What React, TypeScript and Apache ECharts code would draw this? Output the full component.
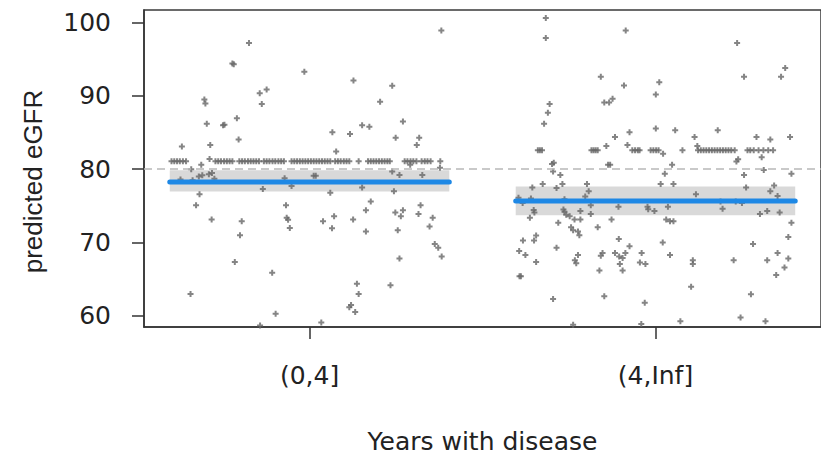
import React, { useEffect, useRef } from "react";
import * as echarts from "echarts";

const categories = ["(0,4]", "(4,Inf]"];
const yTickValues = [60, 70, 80, 90, 100];
const fitValues = [78.26, 75.68];
const ciLower = [76.96, 73.74];
const ciUpper = [79.85, 77.64];
const referenceValue = 80;

// residual-type points: [jitter offset from category, predicted eGFR]
const g1TiedValue = 81.1;
const g1TiedOffsets = [
  -0.399, -0.391, -0.383, -0.375, -0.366, -0.357,
  -0.272, -0.264, -0.256, -0.247, -0.239, -0.231, -0.223,
  -0.203, -0.195, -0.187, -0.178, -0.17, -0.162, -0.154, -0.146,
  -0.132, -0.124, -0.116, -0.107, -0.099, -0.09, -0.082, -0.074,
  -0.052, -0.044, -0.036, -0.028, -0.02, -0.012, -0.004, 0.004, 0.012, 0.02, 0.028,
  0.036, 0.044, 0.052, 0.06,
  0.074, 0.082, 0.09, 0.099, 0.107, 0.115,
  0.142,
  0.169, 0.177, 0.185, 0.193, 0.201, 0.209, 0.217, 0.225, 0.232,
  0.275, 0.283, 0.292, 0.3, 0.309,
  0.324, 0.333, 0.341, 0.35,
  0.378,
];
const g2TiedValue = 82.6;
const g2TiedOffsets = [
  -0.34, -0.334, -0.328,
  -0.185, -0.179, -0.173, -0.167,
  -0.067, -0.059, -0.051, -0.046,
  -0.014, -0.006, 0.002, 0.009,
  0.078,
  0.123, 0.131, 0.139, 0.147, 0.155, 0.163, 0.171, 0.179, 0.187, 0.195, 0.203, 0.211,
  0.219, 0.229,
  0.266, 0.274, 0.284, 0.298, 0.312, 0.326, 0.34,
];

const g1Points: [number, number][] = [
  [-0.369, 83.1], [-0.304, 89.5], [-0.301, 88.95], [-0.297, 86.2], [-0.287, 83.3],
  [-0.223, 94.4], [-0.219, 94.3], [-0.175, 97.2], [-0.25, 86.0], [-0.246, 86.05],
  [-0.21, 86.96], [-0.205, 84.06], [-0.144, 90.35], [-0.124, 90.86], [-0.138, 88.9],
  [-0.015, 93.3], [0.066, 85.05], [0.077, 82.4], [0.117, 84.8], [0.127, 92.1],
  [0.152, 86.0], [0.173, 85.8], [0.204, 89.2], [0.239, 91.36], [0.249, 84.3],
  [0.27, 86.5], [0.31, 83.3], [0.317, 84.3], [0.381, 98.9], [-0.289, 81.4],
  [-0.313, 80.6], [0.291, 80.6], [0.377, 80.2], [-0.342, 80.0], [-0.32, 79.0],
  [-0.31, 79.17], [-0.291, 79.3], [-0.282, 79.5], [-0.275, 78.7], [-0.338, 78.5],
  [-0.373, 78.6], [-0.318, 76.6], [-0.328, 75.1], [-0.283, 73.15], [-0.344, 63.0],
  [-0.216, 67.35], [-0.196, 72.9], [-0.201, 71.0], [-0.135, 77.3], [-0.108, 65.9],
  [-0.098, 60.3], [-0.072, 78.76], [-0.068, 75.1], [-0.066, 73.4], [-0.062, 73.1],
  [-0.057, 72.0], [-0.052, 77.7], [0.012, 79.1], [0.018, 79.1], [0.034, 59.1],
  [0.039, 72.9], [0.06, 76.8], [0.071, 73.6], [0.065, 71.97], [0.126, 73.15],
  [0.137, 64.4], [0.142, 63.0], [0.12, 61.5], [0.115, 61.2], [0.132, 60.56],
  [0.152, 77.5], [0.163, 74.4], [0.177, 75.6], [0.163, 71.5], [0.234, 64.2],
  [0.244, 77.0], [0.239, 79.7], [0.26, 79.2], [0.248, 74.1], [0.264, 73.6],
  [0.27, 74.4], [0.255, 71.7], [0.26, 67.85], [0.315, 73.9], [0.321, 75.1],
  [0.326, 79.2], [0.347, 72.2], [0.356, 73.4], [0.362, 69.8], [0.372, 69.3],
  [0.382, 68.1], [-0.143, 58.7],
];

const g2Points: [number, number][] = [
  [-0.317, 100.6], [-0.317, 97.9], [-0.306, 88.9], [-0.311, 87.7], [-0.322, 86.2],
  [-0.294, 80.9], [-0.299, 80.7], [-0.158, 92.6], [-0.148, 89.1], [-0.134, 89.1],
  [-0.124, 89.6], [-0.142, 83.15], [-0.117, 84.4], [-0.086, 98.9], [-0.091, 91.4],
  [-0.075, 85.05], [-0.081, 83.3], [-0.137, 80.6], [-0.131, 80.6], [0.001, 90.2],
  [0.011, 91.85], [0.001, 85.56], [0.022, 82.1], [0.048, 80.6], [0.057, 85.3],
  [0.113, 84.4], [0.121, 83.15], [0.18, 85.3], [0.236, 97.2], [0.256, 92.6],
  [0.239, 81.35], [0.234, 81.05], [0.292, 84.4], [0.307, 81.65], [0.332, 84.06],
  [0.363, 92.6], [0.375, 93.8], [0.389, 84.4], [-0.296, 79.7], [-0.275, 79.2],
  [0.027, 79.4], [0.015, 78.0], [0.052, 78.0], [0.256, 79.2], [0.262, 77.5],
  [0.313, 79.9], [0.393, 79.4], [-0.396, 76.1], [-0.36, 76.0], [-0.356, 77.5],
  [-0.326, 78.0], [-0.286, 77.45], [-0.269, 78.0], [-0.198, 78.0], [-0.193, 77.0],
  [-0.203, 76.3], [-0.352, 74.45], [-0.35, 74.1], [-0.363, 73.4], [-0.266, 74.5],
  [-0.263, 74.2], [-0.258, 73.8], [-0.281, 72.7], [-0.248, 73.6], [-0.234, 73.15],
  [-0.217, 74.3], [-0.217, 73.15], [-0.187, 75.1], [-0.187, 73.9], [-0.244, 72.1],
  [-0.238, 71.7], [-0.224, 71.5], [-0.22, 71.0], [-0.167, 72.1], [-0.127, 73.15],
  [-0.107, 74.9], [-0.023, 74.9], [-0.021, 74.55], [-0.003, 74.3], [0.036, 74.9],
  [0.031, 73.15], [0.042, 72.9], [0.052, 72.9], [0.117, 76.6], [0.194, 74.6],
  [0.302, 73.9], [0.323, 74.3], [0.332, 77.0], [0.343, 77.8], [0.353, 76.35],
  [0.359, 74.1], [0.393, 72.7], [0.384, 70.75], [0.384, 67.85], [0.373, 66.6],
  [0.349, 65.6], [0.353, 68.6], [0.323, 67.6], [0.282, 69.8], [0.226, 67.6],
  [0.276, 62.96], [0.246, 59.8], [0.318, 59.3], [-0.383, 70.3], [-0.394, 68.85],
  [-0.376, 68.3], [-0.393, 65.4], [-0.389, 65.4], [-0.345, 67.35], [-0.351, 70.3],
  [-0.345, 70.98], [-0.286, 69.3], [-0.296, 62.3], [-0.233, 67.6], [-0.229, 67.2],
  [-0.224, 68.3], [-0.162, 66.2], [-0.158, 68.2], [-0.153, 68.6], [-0.148, 62.7],
  [-0.117, 68.6], [-0.105, 68.1], [-0.095, 67.9], [-0.087, 68.6], [-0.103, 67.1],
  [-0.095, 66.2], [-0.106, 70.5], [-0.075, 69.5], [-0.045, 67.3], [-0.029, 67.1],
  [-0.04, 68.6], [-0.031, 61.8], [-0.041, 58.9], [0.021, 70.0], [0.042, 68.3],
  [0.072, 59.3], [0.103, 64.0], [0.108, 67.6], [0.108, 67.1], [-0.238, 58.8],
  [0.25, 75.4], [-0.384, 75.4], [-0.263, 75.9], [0.188, 75.6], [0.232, 75.6],
];

const FONT_H = "'DejaVu Sans', 'Liberation Sans', Arial, sans-serif";
const FONT_V = "'Liberation Sans', Arial, Helvetica, sans-serif";
const HALF = 0.404;
const PLUS = "path://M2,0H4V2H6V4H4V6H2V4H0V2H2Z";

export default function App() {
  const ref = useRef<HTMLDivElement>(null);
  useEffect(() => {
    document.body.style.margin = "0";
    const chart = echarts.init(ref.current!, null, { renderer: "svg" });
    const pointData = [
      ...g1Points.map(([o, v]) => [1 + o, v]),
      ...g1TiedOffsets.map((o) => [1 + o, g1TiedValue]),
      ...g2Points.map(([o, v]) => [2 + o, v]),
      ...g2TiedOffsets.map((o) => [2 + o, g2TiedValue]),
    ];
    const fitData = categories.map((_, i) => [i + 1, fitValues[i], ciLower[i], ciUpper[i]]);
    chart.setOption({
      animation: false,
      grid: {
        left: 144, top: 10, width: 683, height: 317,
        show: true, borderColor: "#3a3a3a", borderWidth: 1.5, backgroundColor: "transparent",
      },
      xAxis: {
        type: "value", min: 0.5215, max: 2.4785,
        splitLine: { show: false },
        axisLine: { show: true, onZero: false, lineStyle: { color: "#333", width: 1.5 } },
        axisTick: { show: true, customValues: [1, 2], length: 12, lineStyle: { color: "#333", width: 1.5 } },
        axisLabel: {
          customValues: [1, 2],
          formatter: (v: number) => categories[Math.round(v) - 1],
          fontSize: 25, color: "#222", margin: 36, fontFamily: FONT_H,
        },
        name: "Years with disease", nameLocation: "middle", nameGap: 102,
        nameTextStyle: { fontSize: 25, color: "#222", fontFamily: FONT_H },
      },
      yAxis: {
        type: "value", min: 58.5, max: 101.7,
        splitLine: { show: false },
        axisLine: { show: true, onZero: false, lineStyle: { color: "#333", width: 1.5 } },
        axisTick: { show: true, customValues: yTickValues, length: 12, lineStyle: { color: "#333", width: 1.5 } },
        axisLabel: {
          customValues: yTickValues, fontSize: 25, color: "#222", margin: 33, fontFamily: FONT_H,
        },
        name: "predicted eGFR", nameLocation: "middle", nameRotate: 90, nameGap: 98,
        nameTextStyle: { fontSize: 26, color: "#222", fontFamily: FONT_V, padding: [0, 26, 0, 0] },
      },
      series: [
        {
          type: "custom", z: 1, silent: true, data: fitData,
          renderItem: (_p: any, api: any) => {
            const a = api.coord([api.value(0) - HALF, api.value(3)]);
            const b = api.coord([api.value(0) + HALF, api.value(2)]);
            return {
              type: "rect",
              shape: { x: a[0], y: a[1], width: b[0] - a[0], height: b[1] - a[1] },
              style: { fill: "#d9d9d9" },
            };
          },
        },
        {
          type: "scatter", z: 2, silent: true, data: pointData,
          symbol: PLUS, symbolSize: 6,
          itemStyle: { color: "#666666" },
          markLine: {
            silent: true, symbol: "none", label: { show: false },
            lineStyle: { color: "#b8b8b8", width: 1.5, type: [8, 5] },
            data: [{ yAxis: referenceValue }],
          },
        },
        {
          type: "custom", z: 3, silent: true, data: fitData,
          renderItem: (_p: any, api: any) => {
            const a = api.coord([api.value(0) - HALF, api.value(1)]);
            const b = api.coord([api.value(0) + HALF, api.value(1)]);
            return {
              type: "line",
              shape: { x1: a[0], y1: a[1], x2: b[0], y2: b[1] },
              style: { stroke: "#1e88e5", lineWidth: 5, lineCap: "round" },
            };
          },
        },
      ],
    });
    return () => chart.dispose();
  }, []);
  return <div ref={ref} style={{ width: 821, height: 461 }} />;
}
